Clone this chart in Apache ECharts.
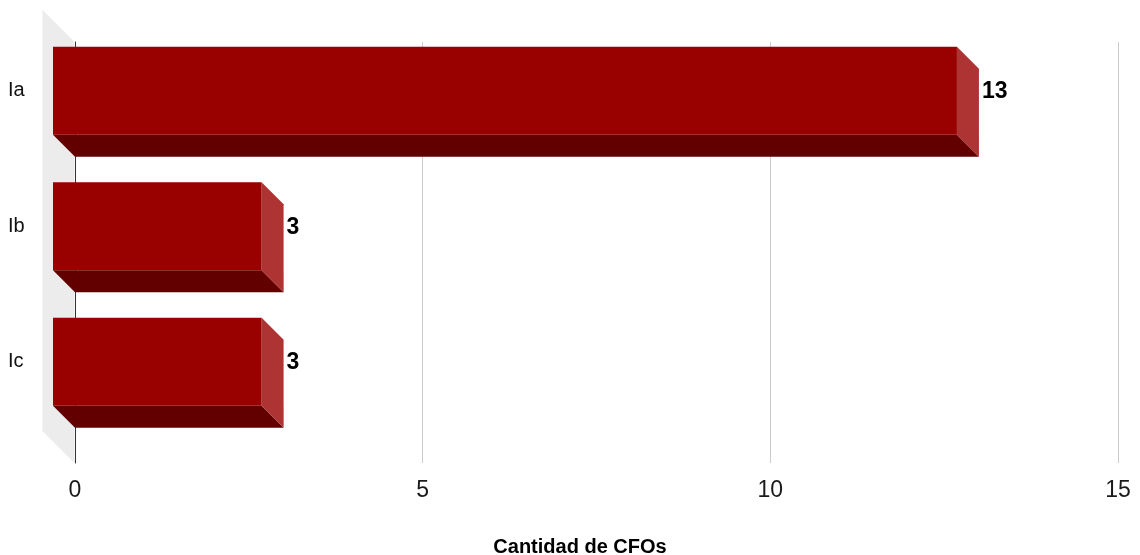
<!DOCTYPE html>
<html>
<head>
<meta charset="utf-8">
<script src="https://cdn.jsdelivr.net/npm/echarts@6/dist/echarts.min.js"></script>
<style>
  html, body { margin: 0; padding: 0; background: #ffffff; }
  #chart { width: 1140px; height: 555px; }
</style>
</head>
<body>
<div id="chart"></div>
<script>
// Categories and their counts
const categories = ['Ia', 'Ib', 'Ic'];
const counts = [13, 3, 3];
// Value-axis ticks
const xTicks = [0, 5, 10, 15];
const axisTitle = 'Cantidad de CFOs';

const FONT = "'Liberation Sans', Arial, Helvetica, sans-serif";
const DEPTH = 22;        // extrusion of each bar
const WALL_DEPTH = 32;   // extrusion of the back wall
const BAR_FRACTION = 0.65;

const chart = echarts.init(document.getElementById('chart'), null, { renderer: 'canvas' });

function renderWall(params, api) {
  const cs = params.coordSys;
  const x0 = cs.x - 0.5;
  const top = cs.y, bottom = cs.y + cs.height;
  return {
    type: 'polygon',
    shape: { points: [
      [x0 - WALL_DEPTH, top - WALL_DEPTH],
      [x0, top],
      [x0, bottom],
      [x0 - WALL_DEPTH, bottom - WALL_DEPTH]
    ] },
    style: { fill: '#ececec' },
    silent: true
  };
}

function renderBar(params, api) {
  const v = api.value(0);
  const c = api.value(1);
  const start = api.coord([0, c]);
  const end = api.coord([v, c]);
  const h = api.size([0, 1])[1] * BAR_FRACTION;
  const yt = end[1] - h / 2;
  const yb = end[1] + h / 2;
  const xs = start[0], xe = end[0];
  return {
    type: 'group',
    children: [
      { // underside
        type: 'polygon',
        shape: { points: [[xs - DEPTH, yb], [xe - DEPTH, yb], [xe, yb + DEPTH], [xs, yb + DEPTH]] },
        style: { fill: '#620000' }
      },
      { // right end
        type: 'polygon',
        shape: { points: [[xe - DEPTH, yt], [xe, yt + DEPTH], [xe, yb + DEPTH], [xe - DEPTH, yb]] },
        style: { fill: '#ae3434' }
      },
      { // front face
        type: 'rect',
        shape: { x: xs - DEPTH, y: yt, width: xe - xs, height: h },
        style: { fill: '#990000' }
      },
      { // value label
        type: 'text',
        style: {
          text: String(v),
          x: xe + 3,
          y: end[1] + 1,
          align: 'left',
          verticalAlign: 'middle',
          fontFamily: FONT,
          fontWeight: 'bold',
          fontSize: 23,
          fill: '#000000'
        }
      }
    ]
  };
}

const option = {
  backgroundColor: '#ffffff',
  animation: false,
  grid: [
    { left: 75, right: 22, top: 42, bottom: 92, outerBoundsMode: 'none', containLabel: false },
    { left: 75, right: 22, top: 23, height: 406.5, outerBoundsMode: 'none', containLabel: false }
  ],
  xAxis: [
    {
      gridIndex: 0,
      type: 'value',
      min: xTicks[0],
      max: xTicks[xTicks.length - 1],
      interval: xTicks[1] - xTicks[0],
      axisLine: { show: false },
      axisTick: { show: false },
      splitLine: { show: true, lineStyle: { color: '#cccccc', width: 1 } },
      axisLabel: { fontFamily: FONT, fontSize: 23, color: '#1a1a1a', margin: 16 },
      name: axisTitle,
      nameLocation: 'middle',
      nameGap: 74,
      nameTextStyle: { fontFamily: FONT, fontWeight: 'bold', fontSize: 20, color: '#000000', padding: [0, 33, 0, 0] }
    },
    {
      gridIndex: 1,
      type: 'value',
      min: xTicks[0],
      max: xTicks[xTicks.length - 1],
      show: false
    }
  ],
  yAxis: [
    {
      gridIndex: 0,
      type: 'category',
      data: categories,
      inverse: true,
      axisLine: { show: true, lineStyle: { color: '#333333', width: 1 } },
      axisTick: { show: false },
      axisLabel: { show: false },
      splitLine: { show: false }
    },
    {
      gridIndex: 1,
      type: 'category',
      data: categories,
      inverse: true,
      axisLine: { show: false },
      axisTick: { show: false },
      splitLine: { show: false },
      axisLabel: { align: 'left', margin: 67, fontFamily: FONT, fontSize: 20, color: '#111111' }
    }
  ],
  series: [
    {
      type: 'custom',
      name: 'wall',
      xAxisIndex: 0,
      yAxisIndex: 0,
      z: -1,
      silent: true,
      clip: false,
      data: [[0, 0]],
      renderItem: renderWall
    },
    {
      type: 'custom',
      name: 'CFOs',
      xAxisIndex: 1,
      yAxisIndex: 1,
      clip: false,
      encode: { x: 0, y: 1 },
      data: counts.map((v, i) => [v, i]),
      renderItem: renderBar
    }
  ]
};

chart.setOption(option);
</script>
</body>
</html>
